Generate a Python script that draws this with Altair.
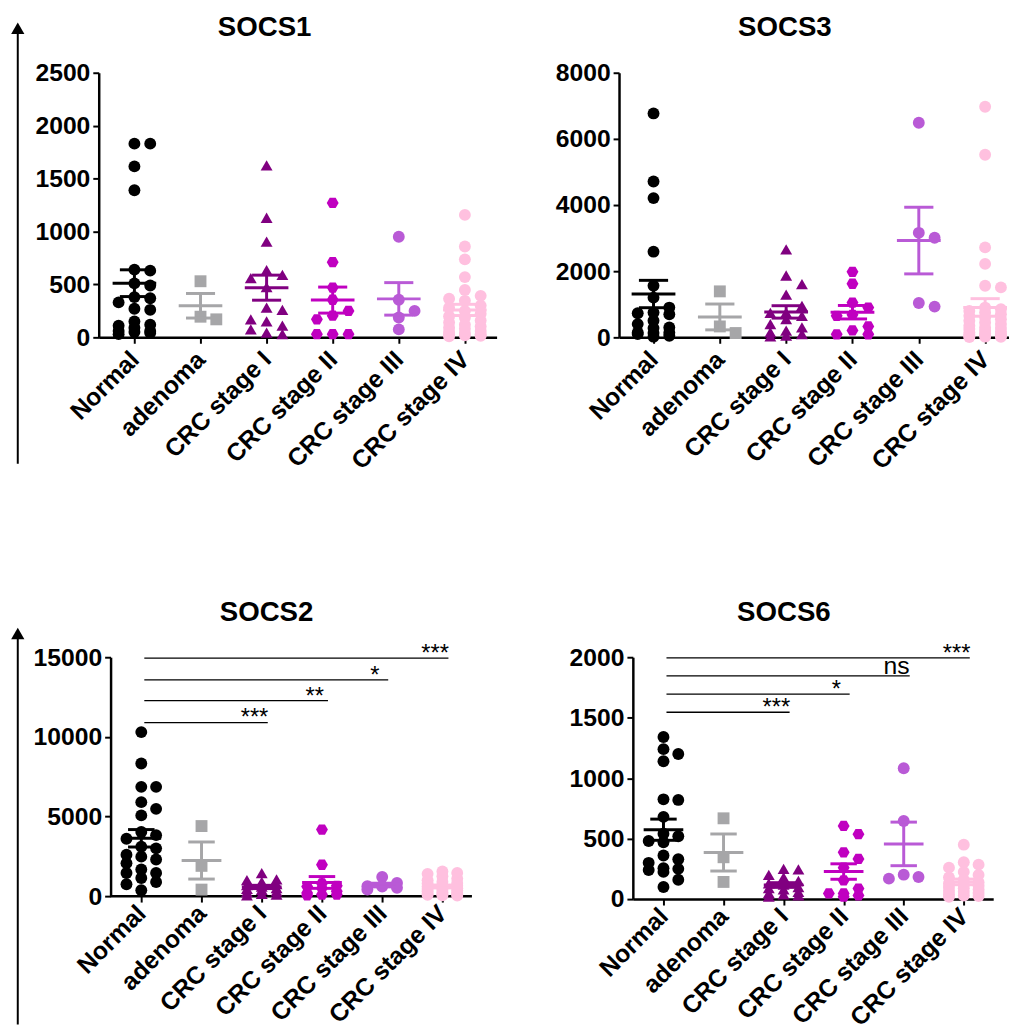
import json
import altair as alt
import pandas as pd

# ---------------- data ----------------
GROUPS = ["Normal", "adenoma", "CRC stage I", "CRC stage II", "CRC stage III", "CRC stage IV"]
COLORS = ["#000000", "#a6a6a8", "#800080", "#c000c0", "#b95ad6", "#ffc0df"]
HEX = "M-1,0L-0.5,-0.866L0.5,-0.866L1,0L0.5,0.866L-0.5,0.866Z"
SHAPES = ["circle", "square", "triangle-up", HEX, "circle", "circle"]

# SOCS1
s1_normal = [1830, 1830, 1615, 1390, 640, 630, 510, 490, 380, 370, 330, 270, 260, 150, 120, 110, 90, 60, 60, 50, 40, 30]
s1_adenoma = [530, 195, 170]
s1_crc1 = [1625, 1130, 905, 635, 590, 560, 475, 280, 260, 170, 150, 110, 75, 45, 30]
s1_crc2 = [1270, 710, 470, 355, 250, 205, 170, 30, 30, 30]
s1_crc3 = [950, 355, 250, 187, 75]
s1_crc4 = [1157, 858, 737, 569, 448, 392, 364, 345, 300, 280, 250, 224, 200, 187, 160, 140, 120, 103, 90, 80, 60, 50, 40, 30, 28, 20, 15, 10]

# SOCS3
s3_normal = [6770, 4710, 4210, 2590, 1560, 1200, 900, 750, 730, 700, 500, 400, 300, 280, 150, 140, 130, 100, 50, 20]
s3_adenoma = [1390, 330, 130]
s3_crc1 = [2660, 1870, 1610, 1290, 950, 750, 740, 650, 550, 400, 300, 200, 150, 100, 50, 30]
s3_crc2 = [1980, 1620, 1050, 900, 680, 650, 330, 210, 90, 90]
s3_crc3 = [6490, 3160, 3010, 1040, 930]
s3_crc4 = [6970, 5520, 2720, 2220, 1560, 1510, 900, 850, 800, 750, 700, 650, 600, 550, 500, 450, 400, 350, 300, 280, 250, 200, 180, 150, 120, 100, 80, 60, 40, 30, 20, 15, 10]

# SOCS2
s2_normal = [10300, 8330, 6860, 6860, 5900, 5480, 5070, 4030, 3830, 3600, 3100, 3000, 2600, 2480, 2300, 2070, 1670, 1450, 1450, 1140, 890, 750, 370]
s2_adenoma = [4400, 1900, 410]
s2_crc1 = [1450, 1050, 1000, 900, 750, 700, 600, 500, 450, 400, 300, 250, 150, 100, 50]
s2_crc2 = [4180, 1970, 800, 650, 600, 500, 300, 200, 100, 100, 50]
s2_crc3 = [1200, 830, 620, 600, 520, 410]
s2_crc4 = [1550, 1450, 1400, 1250, 1100, 1000, 900, 830, 800, 700, 650, 600, 550, 500, 450, 400, 350, 300, 250, 200, 150, 120, 100, 80, 50, 30]

# SOCS6
s6_normal = [1340, 1240, 1200, 1140, 825, 820, 680, 540, 520, 480, 470, 360, 330, 300, 255, 250, 240, 225, 160, 100]
s6_adenoma = [668, 346, 142]
s6_crc1 = [250, 245, 200, 180, 150, 130, 120, 100, 90, 80, 60, 50, 40, 30, 20]
s6_crc2 = [605, 537, 387, 332, 260, 155, 87, 47, 47, 30, 20]
s6_crc3 = [1082, 646, 202, 169, 183]
s6_crc4 = [450, 305, 285, 260, 225, 200, 180, 160, 140, 130, 120, 110, 100, 90, 80, 70, 60, 50, 40, 30, 25, 20]

# significance brackets (Normal vs group index)
s2_sig_end = [2, 3, 4, 5]
s2_sig_y = [10900, 12270, 13580, 14940]
s2_sig_label = ["***", "**", "*", "***"]
s6_sig_end = [2, 3, 4, 5]
s6_sig_y = [1545, 1695, 1845, 1995]
s6_sig_label = ["***", "*", "ns", "***"]

FONT = "Liberation Sans"
LABEL_EXPR = json.dumps(GROUPS).replace('"', "'") + "[datum.value]"


def swarm(vals, px_per_val, d):
    placed = []
    offs = []
    for v in vals:
        y = v * px_per_val
        best, best_gap = 0, -1.0
        for c in (0, d, -d):
            gaps = [abs(y - py) for (po, py) in placed if po == c]
            g = min(gaps) if gaps else 1e9
            if g >= 12:
                best = c
                break
            if g > best_gap:
                best_gap, best = g, c
        placed.append((best, y))
        offs.append(best)
    return offs


def build_df(series, ymax, height, d_px, ppu):
    rows = []
    for gi, (g, vals) in enumerate(zip(GROUPS, series)):
        order = sorted(vals, reverse=True)
        offs = swarm(order, height / ymax, d_px)
        for v, o in zip(order, offs):
            rows.append(dict(group=g, gi=gi, v=v, xpos=gi + o / ppu))
    return pd.DataFrame(rows)


def panel(title, series, ymax, ystep, width, height, xdom, title_cx, d_px,
          arrow=None, sig=None, pad=0, lab_pad=12):
    ppu = width / (xdom[1] - xdom[0])
    df = build_df(series, ymax, height, d_px, ppu)
    xscale = alt.Scale(domain=[xdom[0] - pad / ppu, xdom[1]], nice=False, zero=False)
    yscale = alt.Scale(domain=[0, ymax], nice=False, zero=True)
    xaxis = alt.Axis(values=list(range(6)), labelExpr=LABEL_EXPR, title=None, labelAngle=-45,
                     labelAlign="right", labelBaseline="middle", labelFontSize=25,
                     labelFontWeight="bold", labelFont=FONT, labelColor="black",
                     labelPadding=lab_pad, labelOverlap=False, labelBound=False,
                     labelFlush=False, tickSize=6, tickWidth=2, tickColor="black",
                     domainColor="black", domainWidth=2.5, grid=False, domain=(pad == 0))
    yaxis = alt.Axis(values=list(range(0, ymax + 1, ystep)), format="d", title=None,
                     labelFontSize=25, labelFontWeight="bold", labelFont=FONT,
                     labelColor="black", labelPadding=3, tickSize=6, tickWidth=2,
                     tickColor="black", domainColor="black", domainWidth=2.5, grid=False,
                     labelFlush=False, labelOverlap=False, offset=-pad)

    def X(f):
        return alt.X(f, type="quantitative", scale=xscale, axis=xaxis)

    def Y(f):
        return alt.Y(f, type="quantitative", scale=yscale, axis=yaxis)

    color = alt.Color("group:N", scale=alt.Scale(domain=GROUPS, range=COLORS), legend=None)
    shape = alt.Shape("group:N", scale=alt.Scale(domain=GROUPS, range=SHAPES), legend=None)

    pts = alt.Chart(df).mark_point(filled=True, opacity=1, size=145, strokeWidth=0).encode(
        x=X("xpos"), y=Y("v"), color=color, shape=shape)

    agg = alt.Chart(df).transform_aggregate(
        m="mean(v)", se="stderr(v)", groupby=["group", "gi"]
    ).transform_calculate(
        lo="datum.m - datum.se", hi="datum.m + datum.se",
        xl="datum.gi - 0.33", xr="datum.gi + 0.33",
        cl="datum.gi - 0.22", cr="datum.gi + 0.22")
    mean_rule = agg.mark_rule(strokeWidth=3).encode(x=X("xl"), x2="xr:Q", y=Y("m"), color=color)
    vert = agg.mark_rule(strokeWidth=3).encode(x=X("gi"), y=Y("lo"), y2="hi:Q", color=color)
    cap_lo = agg.mark_rule(strokeWidth=3).encode(x=X("cl"), x2="cr:Q", y=Y("lo"), color=color)
    cap_hi = agg.mark_rule(strokeWidth=3).encode(x=X("cl"), x2="cr:Q", y=Y("hi"), color=color)

    one = pd.DataFrame({"x0": [xdom[0]], "x1": [xdom[1]], "y0": [0]})
    title_mark = alt.Chart(one).mark_text(
        text=title, font=FONT, fontSize=28, fontWeight="bold", color="black",
        align="center", baseline="alphabetic").encode(
        x=alt.value(pad + title_cx), y=alt.value(-37))

    layers = [title_mark]
    if pad:
        base = alt.Chart(one).mark_rule(color="black", strokeWidth=2.5).encode(
            x=X("x0"), x2="x1:Q", y=Y("y0"))
        layers.append(base)
    if arrow is not None:
        ax, atop, abot = arrow
        arr_line = alt.Chart(one).mark_rule(color="black", strokeWidth=2).encode(
            x=alt.value(pad + ax), y=alt.value(atop + 8), y2=alt.value(abot))
        arr_head = alt.Chart(one).mark_point(shape="triangle-up", filled=True, color="black",
                                             size=180, opacity=1, strokeWidth=0).encode(
            x=alt.value(pad + ax), y=alt.value(atop + 6))
        layers += [arr_line, arr_head]
    layers += [pts, mean_rule, vert, cap_lo, cap_hi]

    if sig is not None:
        ends, ys, labels = sig
        sdf = pd.DataFrame({
            "x1": [0.05] * len(ends),
            "x2": [e + 0.1 for e in ends],
            "xt": [e - 0.12 for e in ends],
            "y": ys,
            "label": labels,
        })
        srule = alt.Chart(sdf).mark_rule(color="black", strokeWidth=1.3).encode(
            x=X("x1"), x2="x2:Q", y=Y("y"))
        stext_a = alt.Chart(sdf).transform_filter("datum.label != 'ns'").mark_text(
            font=FONT, fontSize=24, color="black", baseline="alphabetic", dy=3).encode(
            x=X("xt"), y=Y("y"), text="label:N")
        stext_n = alt.Chart(sdf).transform_filter("datum.label == 'ns'").mark_text(
            font=FONT, fontSize=25, color="black", baseline="alphabetic", dy=-2).encode(
            x=X("xt"), y=Y("y"), text="label:N")
        layers += [srule, stext_a, stext_n]

    return alt.layer(*layers).properties(width=width + pad, height=height)


p1 = panel("SOCS1", [s1_normal, s1_adenoma, s1_crc1, s1_crc2, s1_crc3, s1_crc4],
           2500, 500, 403, 268, [-0.54, 5.48], 168, 16, arrow=(-82, -51, 396), lab_pad=12)
p3 = panel("SOCS3", [s3_normal, s3_adenoma, s3_crc1, s3_crc2, s3_crc3, s3_crc4],
           8000, 2000, 395, 268, [-0.52, 5.36], 168, 16, lab_pad=12)
p2 = panel("SOCS2", [s2_normal, s2_adenoma, s2_crc1, s2_crc2, s2_crc3, s2_crc4],
           15000, 5000, 366, 242, [-0.51, 5.49], 158, 15, arrow=(-94, -30, 372),
           sig=(s2_sig_end, s2_sig_y, s2_sig_label), pad=12, lab_pad=7)
p6 = panel("SOCS6", [s6_normal, s6_adenoma, s6_crc1, s6_crc2, s6_crc3, s6_crc4],
           2000, 500, 365, 245, [-0.51, 5.49], 153, 15,
           sig=(s6_sig_end, s6_sig_y, s6_sig_label), lab_pad=7)

chart = alt.concat(
    alt.hconcat(p1, p3, spacing=59),
    alt.hconcat(p2, p6, spacing=96),
    columns=1,
    spacing=126,
    align="none",
).properties(
    padding={"left": 11, "top": 8, "right": 0, "bottom": 0},
    background="white",
).configure_view(stroke=None)

chart.save("out.html", embed_options={"renderer": "svg", "actions": False})
